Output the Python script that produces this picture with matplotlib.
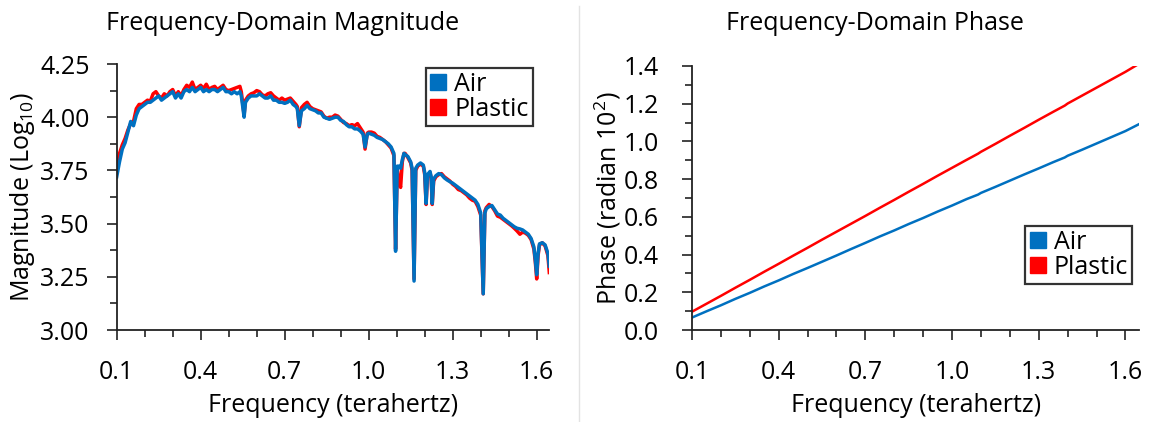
import matplotlib
matplotlib.use("Agg")
import matplotlib.pyplot as plt
from matplotlib.lines import Line2D
from matplotlib.ticker import MultipleLocator, FixedLocator, FormatStrFormatter

# ---------------- data ----------------
freq_thz = [
    0.10, 0.11, 0.12, 0.13, 0.14, 0.15, 0.16, 0.17, 0.18, 0.19,
    0.20, 0.21, 0.22, 0.23, 0.24, 0.25, 0.26, 0.27, 0.28, 0.29,
    0.30, 0.31, 0.32, 0.33, 0.34, 0.35, 0.36, 0.37, 0.38, 0.39,
    0.40, 0.41, 0.42, 0.43, 0.44, 0.45, 0.46, 0.47, 0.48, 0.49,
    0.50, 0.51, 0.52, 0.53, 0.54, 0.545, 0.555, 0.56, 0.57, 0.58, 0.59,
    0.60, 0.61, 0.62, 0.63, 0.64, 0.65, 0.66, 0.67, 0.68, 0.69,
    0.70, 0.71, 0.72, 0.73, 0.74, 0.745, 0.752, 0.76, 0.77, 0.78, 0.79,
    0.80, 0.81, 0.82, 0.83, 0.84, 0.85, 0.86, 0.87, 0.88, 0.89,
    0.90, 0.91, 0.92, 0.93, 0.94, 0.95, 0.96, 0.97, 0.98, 0.987, 0.995,
    1.00, 1.01, 1.02, 1.03, 1.04, 1.05, 1.06, 1.07, 1.08, 1.09,
    1.096, 1.102, 1.108, 1.114, 1.12, 1.126, 1.13, 1.14, 1.15, 1.155,
    1.162, 1.168, 1.175, 1.185, 1.195, 1.200, 1.205, 1.210, 1.219, 1.223,
    1.227, 1.232, 1.24, 1.25, 1.26, 1.27, 1.28, 1.29,
    1.30, 1.31, 1.32, 1.33, 1.34, 1.35, 1.36, 1.37, 1.38, 1.39,
    1.40, 1.409, 1.415, 1.42, 1.43, 1.44, 1.45, 1.46, 1.47, 1.48, 1.49,
    1.50, 1.51, 1.52, 1.53, 1.54, 1.55, 1.56, 1.57, 1.58, 1.59,
    1.595, 1.60, 1.605, 1.61, 1.62, 1.63, 1.64, 1.645,
]

mag_air = [
    3.72, 3.79, 3.85, 3.88, 3.93, 3.98, 3.96, 4.01, 4.04, 4.05,
    4.06, 4.07, 4.07, 4.08, 4.09, 4.10, 4.08, 4.09, 4.10, 4.11,
    4.12, 4.09, 4.11, 4.09, 4.12, 4.13, 4.12, 4.14, 4.12, 4.13,
    4.14, 4.12, 4.13, 4.12, 4.13, 4.13, 4.12, 4.13, 4.14, 4.12,
    4.12, 4.11, 4.12, 4.11, 4.12, 4.10, 4.00, 4.07, 4.09, 4.10, 4.10,
    4.10, 4.11, 4.10, 4.09, 4.09, 4.10, 4.08, 4.08, 4.07, 4.07,
    4.065, 4.07, 4.08, 4.06, 4.05, 4.04, 3.96, 4.03, 4.04, 4.055, 4.04,
    4.035, 4.03, 4.02, 4.02, 4.00, 3.995, 3.99, 3.995, 4.00, 4.00,
    3.985, 3.98, 3.965, 3.955, 3.955, 3.945, 3.945, 3.935, 3.92, 3.86, 3.92,
    3.925, 3.92, 3.915, 3.905, 3.90, 3.895, 3.885, 3.875, 3.86, 3.83,
    3.37, 3.77, 3.77, 3.76, 3.80, 3.83, 3.825, 3.815, 3.79, 3.76,
    3.23, 3.76, 3.775, 3.785, 3.775, 3.74, 3.595, 3.73, 3.745, 3.72,
    3.595, 3.71, 3.725, 3.735, 3.73, 3.715, 3.705, 3.697,
    3.69, 3.68, 3.67, 3.66, 3.65, 3.64, 3.63, 3.62, 3.61, 3.59,
    3.55, 3.17, 3.55, 3.57, 3.58, 3.585, 3.565, 3.545, 3.54, 3.525, 3.515,
    3.505, 3.495, 3.485, 3.478, 3.475, 3.47, 3.46, 3.45, 3.43, 3.39,
    3.33, 3.26, 3.36, 3.405, 3.41, 3.40, 3.36, 3.30,
]

mag_plastic = [
    3.76, 3.83, 3.87, 3.90, 3.94, 3.97, 3.98, 4.04, 4.06, 4.06,
    4.07, 4.08, 4.075, 4.11, 4.12, 4.10, 4.09, 4.11, 4.10, 4.12,
    4.13, 4.10, 4.12, 4.10, 4.13, 4.15, 4.14, 4.165, 4.13, 4.14,
    4.15, 4.135, 4.155, 4.13, 4.14, 4.145, 4.13, 4.14, 4.15, 4.13,
    4.125, 4.13, 4.135, 4.14, 4.145, 4.12, 4.01, 4.08, 4.10, 4.11, 4.115,
    4.125, 4.12, 4.105, 4.10, 4.11, 4.115, 4.10, 4.09, 4.08, 4.09,
    4.08, 4.085, 4.09, 4.075, 4.06, 4.05, 3.955, 4.045, 4.06, 4.07, 4.05,
    4.04, 4.035, 4.03, 4.025, 4.005, 3.995, 4.00, 4.00, 4.01, 4.005,
    3.99, 3.975, 3.97, 3.96, 3.965, 3.96, 3.97, 3.95, 3.93, 3.85, 3.925,
    3.93, 3.93, 3.925, 3.91, 3.905, 3.895, 3.885, 3.87, 3.855, 3.82,
    3.38, 3.76, 3.70, 3.67, 3.79, 3.83, 3.83, 3.81, 3.785, 3.75,
    3.24, 3.75, 3.77, 3.78, 3.77, 3.73, 3.59, 3.72, 3.74, 3.715,
    3.59, 3.70, 3.72, 3.73, 3.735, 3.72, 3.71, 3.70,
    3.685, 3.675, 3.66, 3.655, 3.645, 3.635, 3.62, 3.61, 3.605, 3.58,
    3.54, 3.17, 3.56, 3.575, 3.59, 3.58, 3.56, 3.535, 3.53, 3.52, 3.51,
    3.50, 3.49, 3.478, 3.465, 3.45, 3.46, 3.455, 3.445, 3.425, 3.38,
    3.32, 3.24, 3.35, 3.40, 3.41, 3.395, 3.35, 3.27,
]

phase_freq = [
    0.10, 0.15, 0.20, 0.25, 0.30, 0.35, 0.40, 0.45, 0.50, 0.55,
    0.60, 0.65, 0.70, 0.75, 0.80, 0.85, 0.90, 0.95, 1.00, 1.05,
    1.09, 1.10, 1.15, 1.20, 1.25, 1.30, 1.35, 1.39, 1.40, 1.45,
    1.50, 1.55, 1.60, 1.645,
]
phase_air = [
    0.066, 0.099, 0.131, 0.165, 0.197, 0.231, 0.263, 0.297, 0.329, 0.362,
    0.395, 0.429, 0.462, 0.496, 0.528, 0.562, 0.594, 0.628, 0.660, 0.694,
    0.718, 0.727, 0.759, 0.792, 0.825, 0.857, 0.890, 0.915, 0.924, 0.956,
    0.989, 1.022, 1.055, 1.090,
]
phase_plastic = [
    0.097, 0.139, 0.181, 0.224, 0.266, 0.309, 0.351, 0.394, 0.436, 0.479,
    0.521, 0.563, 0.605, 0.648, 0.690, 0.733, 0.775, 0.818, 0.860, 0.902,
    0.935, 0.945, 0.987, 1.030, 1.072, 1.115, 1.157, 1.190, 1.201, 1.243,
    1.285, 1.327, 1.369, 1.410,
]

x_tick_labels = [0.1, 0.4, 0.7, 1.0, 1.3, 1.6]
series_names = ["Air", "Plastic"]
series_colors = ["#0070C0", "#FF0000"]

# ---------------- style ----------------
FONT = ["Open Sans", "DejaVu Sans"]
plt.rcParams["font.family"] = FONT
plt.rcParams["mathtext.default"] = "regular"
FS = 18

W, H = 1150, 422
fig = plt.figure(figsize=(W / 100, H / 100), dpi=100)


def px_axes(x0, x1, ytop, ybot):
    return fig.add_axes([x0 / W, 1 - ybot / H, (x1 - x0) / W, (ybot - ytop) / H])


def style_axes(ax, ypad):
    for s in ("top", "right"):
        ax.spines[s].set_visible(False)
    for s in ("left", "bottom"):
        ax.spines[s].set_linewidth(1.3)
        ax.spines[s].set_color("#222222")
    ax.tick_params(which="major", direction="out", length=7.5, width=1.2,
                   color="#222222", labelsize=FS)
    ax.tick_params(which="minor", direction="out", length=5, width=1.2,
                   color="#222222")
    ax.tick_params(axis="x", which="major", pad=14)
    ax.tick_params(axis="y", which="major", pad=ypad)
    ax.xaxis.set_major_locator(FixedLocator(x_tick_labels))
    ax.xaxis.set_minor_locator(MultipleLocator(0.1))
    ax.xaxis.set_major_formatter(FormatStrFormatter("%.1f"))


def legend(ax, loc_anchor):
    handles = [Line2D([], [], linestyle="none", marker="s", markersize=11,
                      markerfacecolor=c, markeredgecolor=c)
               for c in series_colors]
    lg = ax.legend(handles, series_names, loc="upper left",
                   bbox_to_anchor=loc_anchor, bbox_transform=fig.transFigure,
                   frameon=True, fancybox=False, fontsize=FS,
                   handlelength=0.7, handletextpad=0.3, borderpad=0.15,
                   labelspacing=0.0, borderaxespad=0)
    fr = lg.get_frame()
    fr.set_edgecolor("black")
    fr.set_linewidth(1.6)
    return lg


# ---------------- left: magnitude ----------------
ax1 = px_axes(116.7, 549.3, 64, 330)
ax1.plot(freq_thz, mag_plastic, color=series_colors[1], lw=2.5, solid_joinstyle="round")
ax1.plot(freq_thz, mag_air, color=series_colors[0], lw=2.5, solid_joinstyle="round")
ax1.set_xlim(0.1, 1.645)
ax1.set_ylim(3.0, 4.25)
style_axes(ax1, 12)
ax1.yaxis.set_major_locator(MultipleLocator(0.25))
ax1.yaxis.set_minor_locator(MultipleLocator(0.125))
ax1.yaxis.set_major_formatter(FormatStrFormatter("%.2f"))
ax1.set_xlabel("Frequency (terahertz)", fontsize=FS, labelpad=6)
ax1.set_ylabel("Magnitude (Log$_{10}$)", fontsize=FS, labelpad=2)
legend(ax1, (425.7 / W, 1 - 68 / H))

# ---------------- right: phase ----------------
ax2 = px_axes(692, 1139.3, 66, 330)
ax2.plot(phase_freq, phase_plastic, color=series_colors[1], lw=1.8)
ax2.plot(phase_freq, phase_air, color=series_colors[0], lw=1.8)
ax2.set_xlim(0.1, 1.648)
ax2.set_ylim(0.0, 1.4)
style_axes(ax2, 16)
ax2.yaxis.set_major_locator(MultipleLocator(0.2))
ax2.yaxis.set_minor_locator(MultipleLocator(0.1))
ax2.yaxis.set_major_formatter(FormatStrFormatter("%.1f"))
ax2.set_xlabel("Frequency (terahertz)", fontsize=FS, labelpad=6)
ax2.set_ylabel("Phase (radian 10$^2$)", fontsize=FS, labelpad=1)
legend(ax2, (1025 / W, 1 - 226 / H))

# ---------------- titles & divider ----------------
fig.text(283 / W, 1 - 23 / H, "Frequency-Domain Magnitude", ha="center",
         va="center", fontsize=FS)
fig.text(875 / W, 1 - 23 / H, "Frequency-Domain Phase", ha="center",
         va="center", fontsize=FS)
fig.add_artist(Line2D([579 / W, 579 / W], [0, 1 - 6 / H], color="#e3e3e3",
                      lw=1.0, transform=fig.transFigure))

fig.savefig("out.png", dpi=100)
